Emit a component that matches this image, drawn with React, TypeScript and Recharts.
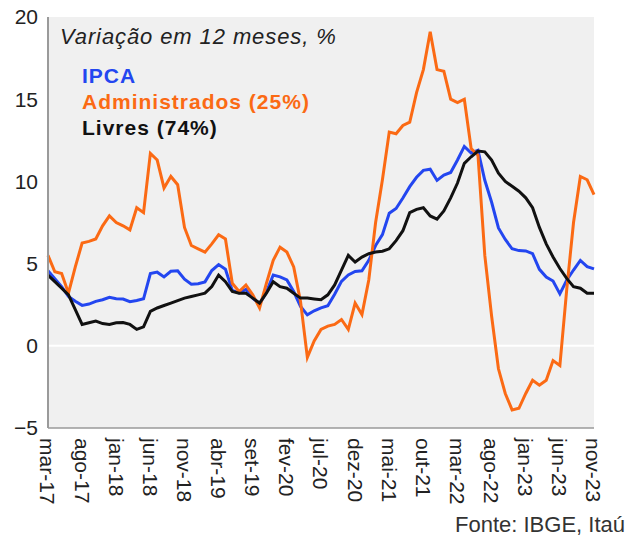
import { CartesianGrid, Line, LineChart, ReferenceLine, XAxis, YAxis } from "recharts";

const months = [
  "mar-17", "abr-17", "mai-17", "jun-17", "jul-17", "ago-17", "set-17", "out-17", "nov-17", "dez-17",
  "jan-18", "fev-18", "mar-18", "abr-18", "mai-18", "jun-18", "jul-18", "ago-18", "set-18", "out-18", "nov-18", "dez-18",
  "jan-19", "fev-19", "mar-19", "abr-19", "mai-19", "jun-19", "jul-19", "ago-19", "set-19", "out-19", "nov-19", "dez-19",
  "jan-20", "fev-20", "mar-20", "abr-20", "mai-20", "jun-20", "jul-20", "ago-20", "set-20", "out-20", "nov-20", "dez-20",
  "jan-21", "fev-21", "mar-21", "abr-21", "mai-21", "jun-21", "jul-21", "ago-21", "set-21", "out-21", "nov-21", "dez-21",
  "jan-22", "fev-22", "mar-22", "abr-22", "mai-22", "jun-22", "jul-22", "ago-22", "set-22", "out-22", "nov-22", "dez-22",
  "jan-23", "fev-23", "mar-23", "abr-23", "mai-23", "jun-23", "jul-23", "ago-23", "set-23", "out-23", "nov-23",
];

const ipca = [
  4.57, 4.08, 3.6, 3.0, 2.71, 2.46, 2.54, 2.7, 2.8, 2.95,
  2.86, 2.84, 2.68, 2.76, 2.86, 4.39, 4.48, 4.19, 4.53, 4.56, 4.05, 3.75,
  3.78, 3.89, 4.58, 4.94, 4.66, 3.37, 3.22, 3.43, 2.89, 2.54, 3.27, 4.31,
  4.19, 4.01, 3.3, 2.4, 1.88, 2.13, 2.31, 2.44, 3.14, 3.92, 4.31, 4.52,
  4.56, 5.2, 6.1, 6.76, 8.06, 8.35, 8.99, 9.68, 10.25, 10.67, 10.74, 10.06,
  10.38, 10.54, 11.3, 12.13, 11.73, 11.89, 10.07, 8.73, 7.17, 6.47, 5.9, 5.79,
  5.77, 5.6, 4.65, 4.18, 3.94, 3.16, 3.99, 4.61, 5.19, 4.82, 4.68,
];

const administrados = [
  5.5, 4.5, 4.4, 3.2, 4.8, 6.25, 6.35, 6.5, 7.3, 7.9,
  7.5, 7.3, 7.05, 8.4, 8.1, 11.7, 11.3, 9.6, 10.3, 9.8, 7.2, 6.1,
  5.9, 5.7, 6.2, 6.75, 6.5, 3.8, 3.3, 3.7, 3.1, 2.3, 3.8, 5.2,
  6.0, 5.7, 4.8, 2.7, -0.7, 0.3, 1.0, 1.2, 1.3, 1.6, 1.0, 2.6,
  1.9, 4.0, 7.5, 10.1, 13.0, 12.9, 13.4, 13.6, 15.4, 16.8, 19.1, 16.8,
  16.7, 15.0, 14.8, 15.0, 12.0, 11.6, 5.5, 1.8, -1.4, -2.9, -3.9, -3.8,
  -2.9, -2.1, -2.4, -2.1, -0.9, -1.2, 3.4, 7.5, 10.3, 10.1, 9.2,
];

const livres = [
  4.3, 3.9, 3.5, 3.1, 2.2, 1.3, 1.4, 1.5, 1.35, 1.3,
  1.4, 1.42, 1.3, 1.0, 1.15, 2.1, 2.3, 2.45, 2.6, 2.75, 2.9, 3.0,
  3.1, 3.2, 3.6, 4.3, 3.9, 3.3, 3.2, 3.2, 2.9, 2.6, 3.2, 3.9,
  3.6, 3.5, 3.2, 2.9, 2.9, 2.85, 2.8, 3.1, 3.7, 4.6, 5.5, 5.1,
  5.4, 5.6, 5.7, 5.75, 5.9, 6.4, 7.0, 8.1, 8.3, 8.4, 7.9, 7.7,
  8.2, 9.0, 9.9, 11.1, 11.5, 11.85, 11.8, 11.3, 10.5, 10.0, 9.7, 9.4,
  9.0, 8.4, 7.2, 6.2, 5.4, 4.7, 4.1, 3.6, 3.5, 3.2, 3.2,
];

const yTicks = [-5, 0, 5, 10, 15, 20];

const data = months.map((month, i) => ({
  month,
  ipca: ipca[i],
  administrados: administrados[i],
  livres: livres[i],
}));

const font = "'Liberation Sans', Arial, sans-serif";

const MonthTick = ({ x, y, payload }: any) => (
  <text
    x={x}
    y={y}
    dy="0.36em"
    transform={`rotate(90, ${x}, ${y})`}
    textAnchor="start"
    fontSize={21}
    fontFamily={font}
    fill="#222"
  >
    {payload.value}
  </text>
);

export default function App() {
  return (
    <div style={{ position: "absolute", left: 0, top: 0, width: 628, height: 546, background: "#fff" }}>
      <LineChart
        width={628}
        height={546}
        data={data}
        margin={{ top: 17, right: 34, left: 6, bottom: 58 }}
      >
        <CartesianGrid fill="#f0f0f0" stroke="none" horizontal={false} vertical={false} />
        <ReferenceLine y={0} stroke="#ffffff" strokeWidth={2} />
        <XAxis
          dataKey="month"
          interval={4}
          tickLine={false}
          axisLine={{ stroke: "#9a9a9a", strokeWidth: 1.5 }}
          tick={<MonthTick />}
          height={60}
          tickMargin={4}
        />
        <YAxis
          domain={[-5, 20]}
          ticks={yTicks}
          width={42}
          tickLine={false}
          axisLine={{ stroke: "#9a9a9a", strokeWidth: 2 }}
          tick={{ fontSize: 21, fontFamily: font, fill: "#222" }}
          tickFormatter={(v: number) => (v < 0 ? `\u2212${Math.abs(v)}` : `${v}`)}
          tickMargin={4}
        />
        <Line dataKey="ipca" stroke="#2346f0" strokeWidth={3} dot={false} isAnimationActive={false} />
        <Line dataKey="administrados" stroke="#fb6a14" strokeWidth={3} dot={false} isAnimationActive={false} />
        <Line dataKey="livres" stroke="#111111" strokeWidth={3} dot={false} isAnimationActive={false} />
      </LineChart>
      <svg
        width={628}
        height={546}
        style={{ position: "absolute", left: 0, top: 0, pointerEvents: "none" }}
      >
        <text x={60} y={44} fontSize={22} fontStyle="italic" fontFamily={font} fill="#222" letterSpacing={0.9}>
          Variação em 12 meses, %
        </text>
        <text x={82} y={83} fontSize={21} fontWeight="bold" fontFamily={font} fill="#2346f0" letterSpacing={1}>
          IPCA
        </text>
        <text x={82} y={109} fontSize={21} fontWeight="bold" fontFamily={font} fill="#fb6a14" letterSpacing={1}>
          Administrados (25%)
        </text>
        <text x={82} y={135} fontSize={21} fontWeight="bold" fontFamily={font} fill="#111" letterSpacing={1}>
          Livres (74%)
        </text>
        <text x={625} y={532} fontSize={22} fontFamily={font} fill="#333" textAnchor="end">
          Fonte: IBGE, Itaú
        </text>
      </svg>
    </div>
  );
}
